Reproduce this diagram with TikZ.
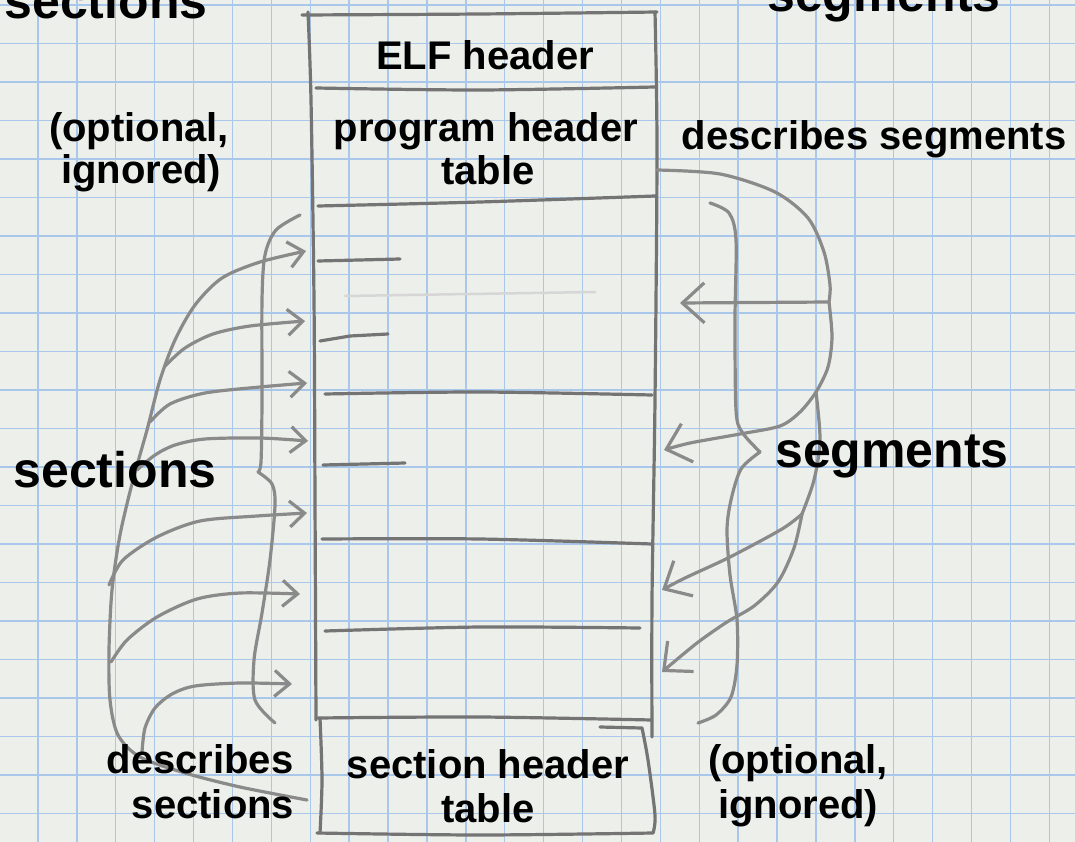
\documentclass[tikz,border=0pt]{standalone}
\usepackage{fontspec}
\setmainfont{Liberation Sans}
\usetikzlibrary{arrows.meta}
\definecolor{paper}{RGB}{237,239,234}
\definecolor{gridblue}{RGB}{168,199,234}
\definecolor{pencil}{RGB}{138,138,138}
\definecolor{pencildark}{RGB}{116,116,116}
\tikzset{
  gridline/.style={draw=gridblue, line width=1.4pt},
  pen/.style={draw=pencil, line width=3.2pt, line cap=round, line join=round},
  boxpen/.style={draw=pencildark, line width=3.2pt, line cap=round, line join=round},
  faintpen/.style={draw=pencil!35, line width=2.5pt, line cap=round},
  lab/.style={font=\fontsize{40}{44}\selectfont\bfseries, text=black, inner sep=0pt, anchor=base},
  biglab/.style={font=\fontsize{50}{55}\selectfont\bfseries, text=black, inner sep=0pt, anchor=base},
  tipL/.style={-{Straight Barb[length=15pt,width=26pt]}},
  tipR/.style={-{Straight Barb[length=22pt,width=40pt]}},
}
\begin{document}
\begin{tikzpicture}[x=1pt,y=-1pt]
\useasboundingbox (0,0) rectangle (1075,842);
\clip (0,0) rectangle (1075,842);
\fill[paper] (0,0) rectangle (1075,842);
% graph paper
\foreach \k in {0,...,27} { \draw[gridline] ({38.9*\k-1},0) -- ({38.9*\k-1},842); }
\foreach \k in {0,...,21} { \draw[gridline] (0,{5+38.5*\k}) -- (1075,{5+38.5*\k}); }

% ---------- main file box ----------
\draw[boxpen] plot[smooth] coordinates {(308,12) (311,100) (314,300) (315,500) (316,720)};
\draw[boxpen] plot[smooth] coordinates {(655,12) (657,150) (655,400) (652,600) (652,737)};
\draw[boxpen] plot[smooth] coordinates {(302,15) (480,14) (657,12)};
\draw[boxpen] plot[smooth] coordinates {(316,88) (480,90) (655,87)};
\draw[boxpen] plot[smooth] coordinates {(318,206) (480,202) (655,196)};
\draw[boxpen] (318,261) -- (400,259);
\draw[faintpen] (345,296) -- (595,292);
\draw[boxpen] (320,341) -- (350,336) -- (388,334);
\draw[boxpen] plot[smooth] coordinates {(325,394) (480,392) (652,395)};
\draw[boxpen] (323,465) -- (405,463);
\draw[boxpen] plot[smooth] coordinates {(322,539) (480,539) (652,544)};
\draw[boxpen] plot[smooth] coordinates {(325,631) (480,627) (640,628)};
\draw[boxpen] plot[smooth] coordinates {(318,718) (480,717) (652,720)};
% section header table
\draw[boxpen] plot[smooth] coordinates {(320,718) (322,780) (320,833)};
\draw[boxpen] (600,727) -- (642,728);
\draw[boxpen] plot[smooth] coordinates {(642,728) (648,760) (655,815) (653,833)};
\draw[boxpen] plot[smooth] coordinates {(317,833) (480,835) (653,833)};

% ---------- left: sections ----------
\draw[pen] plot[smooth] coordinates {(300,215) (276,230) (265,255) (262,300) (262,400) (261,462) (258,472)};
\draw[pen] plot[smooth] coordinates {(258,472) (272,484) (275,505) (270,560) (262,613) (254,660) (255,700) (275,723)};
\draw[pen, tipL] plot[smooth] coordinates {(307,800) (240,787) (185,773) (140,757) (118,735) (110,700) (109,650) (112,590) (120,535) (133,480) (147,430) (160,380) (175,340) (195,305) (222,278) (260,262) (306,251)};
\draw[pen, tipL] plot[smooth] coordinates {(165,366) (185,348) (213,334) (250,326) (305,321)};
\draw[pen, tipL] plot[smooth] coordinates {(150,422) (170,404) (205,393) (260,387) (307,383)};
\draw[pen, tipL] plot[smooth] coordinates {(137,470) (155,455) (175,445) (205,439) (260,438) (308,441)};
\draw[pen, tipL] plot[smooth] coordinates {(109,585) (123,560) (157,537) (200,521) (257,516) (307,513)};
\draw[pen, tipL] plot[smooth] coordinates {(111,662) (127,640) (157,617) (197,599) (240,593) (300,594)};
\draw[pen, tipL] plot[smooth] coordinates {(142,752) (145,728) (155,708) (172,694) (195,686) (240,683) (292,684)};

% ---------- right: segments ----------
\draw[pen] plot[smooth] coordinates {(710,203) (729,213) (736,240) (735,320) (736,410) (742,432) (760,452)};
\draw[pen] plot[smooth] coordinates {(760,452) (741,469) (731,500) (727,530) (730,575) (737,620) (737,665) (731,697) (716,715) (698,723)};
\draw[pen] plot[smooth] coordinates {(657,170) (720,174) (775,192) (808,218) (824,252) (830,285) (829,302)};
\draw[pen, tipR] (829,302) -- (680,303);
\draw[pen, tipR] plot[smooth] coordinates {(829,302) (832,337) (828,367) (816,392) (800,412) (780,426) (740,434) (690,443) (664,450)};
\draw[pen] plot[smooth] coordinates {(816,392) (820,440) (814,480) (802,514)};
\draw[pen, tipR] plot[smooth] coordinates {(802,514) (782,529) (730,557) (685,578) (662,590)};
\draw[pen, tipR] plot[smooth] coordinates {(802,514) (794,548) (778,582) (754,606) (727,622) (697,643) (662,672)};

% ---------- labels ----------
\node[biglab] (secTop) at (106,19) {sections};
\node[biglab] (segTop) at (884,12) {segments};
\node[lab] (elf) at (485,70) {ELF header};
\node[lab] (pht1) at (486,142) {program header};
\node[lab] (pht2) at (488,185) {table};
\node[lab] (optL1) at (139,142) {(optional,};
\node[lab] (optL2) at (141,184) {ignored)};
\node[lab] (descSeg) at (874,150) {describes segments};
\node[biglab] (secL) at (115,487) {sections};
\node[biglab] (segR) at (892,467) {segments};
\node[lab] (descSec1) at (200,773) {describes};
\node[lab] (descSec2) at (213,818) {sections};
\node[lab] (sht1) at (488,778) {section header};
\node[lab] (sht2) at (488,822) {table};
\node[lab] (optR1) at (798,773) {(optional,};
\node[lab] (optR2) at (798,818) {ignored)};
\end{tikzpicture}
\end{document}
